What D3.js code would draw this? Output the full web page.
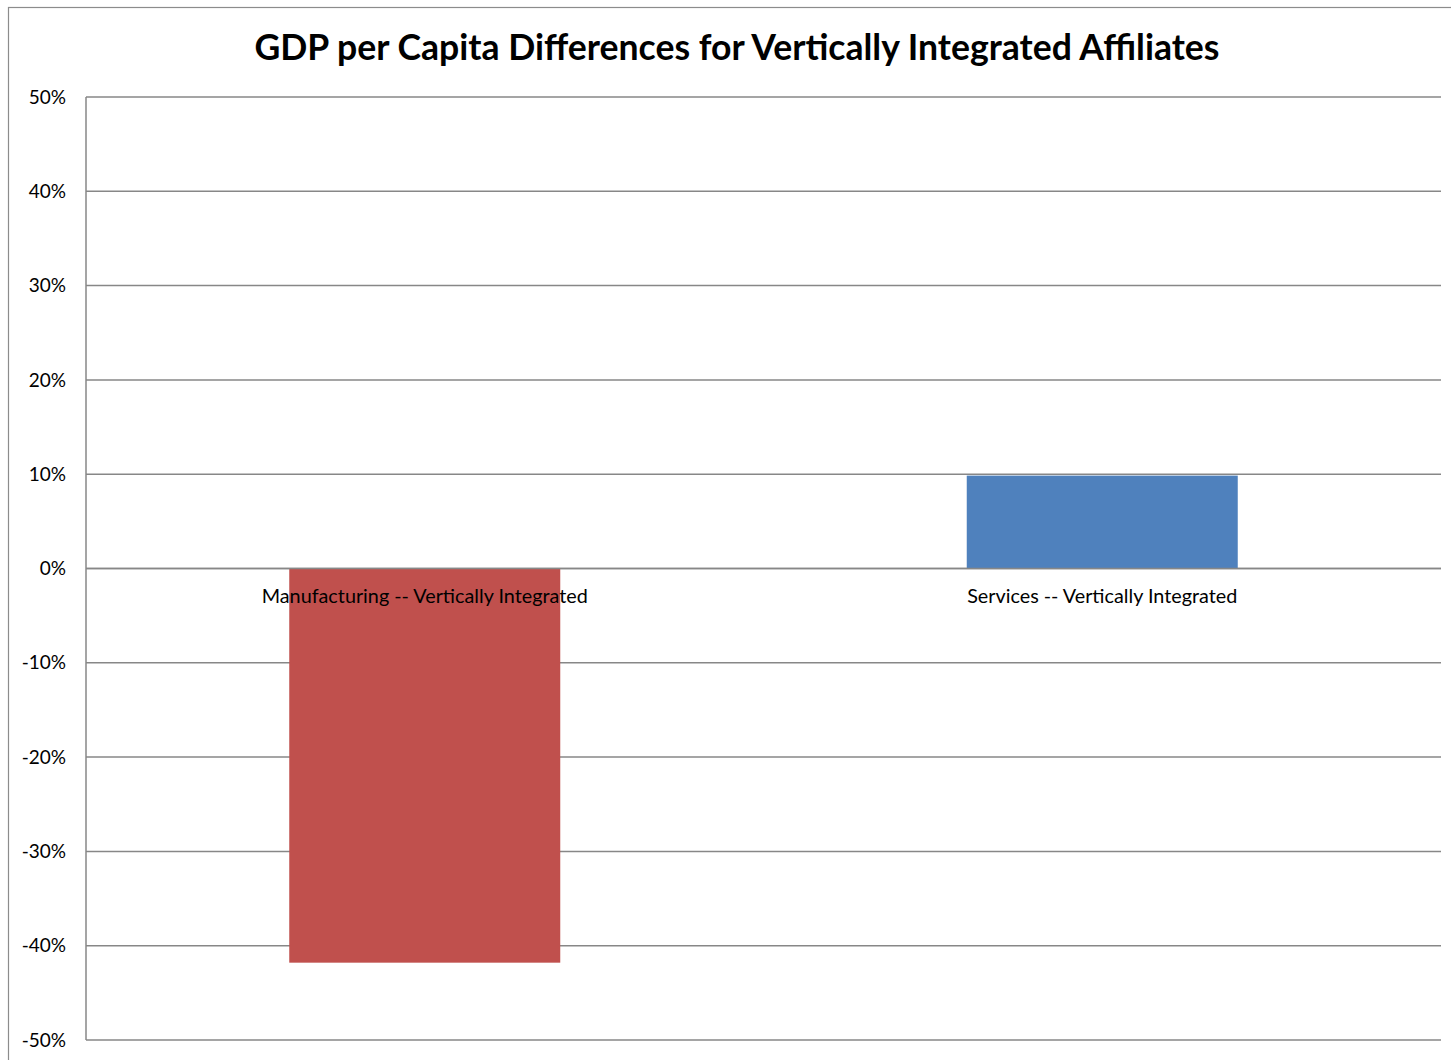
<!DOCTYPE html>
<html>
<head>
<meta charset="utf-8">
<script src="https://cdn.jsdelivr.net/npm/d3@7"></script>
<style>
  html, body { margin: 0; padding: 0; background: #fff; }
  svg { display: block; }
</style>
</head>
<body>
<svg id="chart" width="1451" height="1060"></svg>
<script>
// Category labels and their values (share difference)
const categories = ["Manufacturing -- Vertically Integrated", "Services -- Vertically Integrated"];
const values = [-0.418, 0.0985];
const barColors = ["#c0504d", "#4f81bd"];
const tickValues = [0.5, 0.4, 0.3, 0.2, 0.1, 0, -0.1, -0.2, -0.3, -0.4, -0.5];

const font = "Lato, 'Open Sans', sans-serif";
const svg = d3.select("#chart");

// Outer chart frame
svg.append("rect")
  .attr("x", 8.5).attr("y", 7.5)
  .attr("width", 1460).attr("height", 1070)
  .attr("fill", "#fff").attr("stroke", "#8c8c8c").attr("stroke-width", 1.2);

const plot = { left: 86, top: 97, right: 1441, bottom: 1040 };

const y = d3.scaleLinear().domain([-0.5, 0.5]).range([plot.bottom, plot.top]);
const x = d3.scaleBand().domain(categories)
  .range([plot.left, plot.right])
  .paddingInner(0.6).paddingOuter(0.3);

// Horizontal gridlines
svg.append("g").selectAll("line").data(tickValues).join("line")
  .attr("x1", plot.left).attr("x2", plot.right)
  .attr("y1", d => y(d)).attr("y2", d => y(d))
  .attr("stroke", "#878787").attr("stroke-width", 1.5);

// Value axis line
svg.append("line")
  .attr("x1", plot.left).attr("x2", plot.left)
  .attr("y1", plot.top).attr("y2", plot.bottom)
  .attr("stroke", "#878787").attr("stroke-width", 1.5);

// Tick labels, with a plain hyphen for negatives
const fmt = v => d3.format(".0%")(v).replace("\u2212", "-");
svg.append("g").selectAll("text").data(tickValues).join("text")
  .attr("x", 66).attr("y", d => y(d))
  .attr("dy", "0.35em")
  .attr("text-anchor", "end")
  .attr("font-family", font).attr("font-size", 19)
  .attr("fill", "#000")
  .text(d => fmt(d));

// Bars
svg.append("g").selectAll("rect").data(values).join("rect")
  .attr("x", (d, i) => x(categories[i]))
  .attr("width", x.bandwidth())
  .attr("y", d => y(Math.max(0, d)))
  .attr("height", d => Math.abs(y(d) - y(0)))
  .attr("fill", (d, i) => barColors[i]);

// Zero line drawn above bars
svg.append("line")
  .attr("x1", plot.left).attr("x2", plot.right)
  .attr("y1", y(0)).attr("y2", y(0))
  .attr("stroke", "#878787").attr("stroke-width", 1.5);

// Category labels just below the zero line
svg.append("g").selectAll("text").data(categories).join("text")
  .attr("x", d => x(d) + x.bandwidth() / 2)
  .attr("y", y(0) + 28)
  .attr("dy", "0.35em")
  .attr("text-anchor", "middle")
  .attr("font-family", font).attr("font-size", 19.8)
  .attr("fill", "#000")
  .text(d => d);

// Title
svg.append("text")
  .attr("x", 737).attr("y", 48)
  .attr("dy", "0.35em")
  .attr("text-anchor", "middle")
  .attr("font-family", font).attr("font-size", 35.6).attr("font-weight", "bold")
  .attr("fill", "#000")
  .text("GDP per Capita Differences for Vertically Integrated Affiliates");
</script>
</body>
</html>
